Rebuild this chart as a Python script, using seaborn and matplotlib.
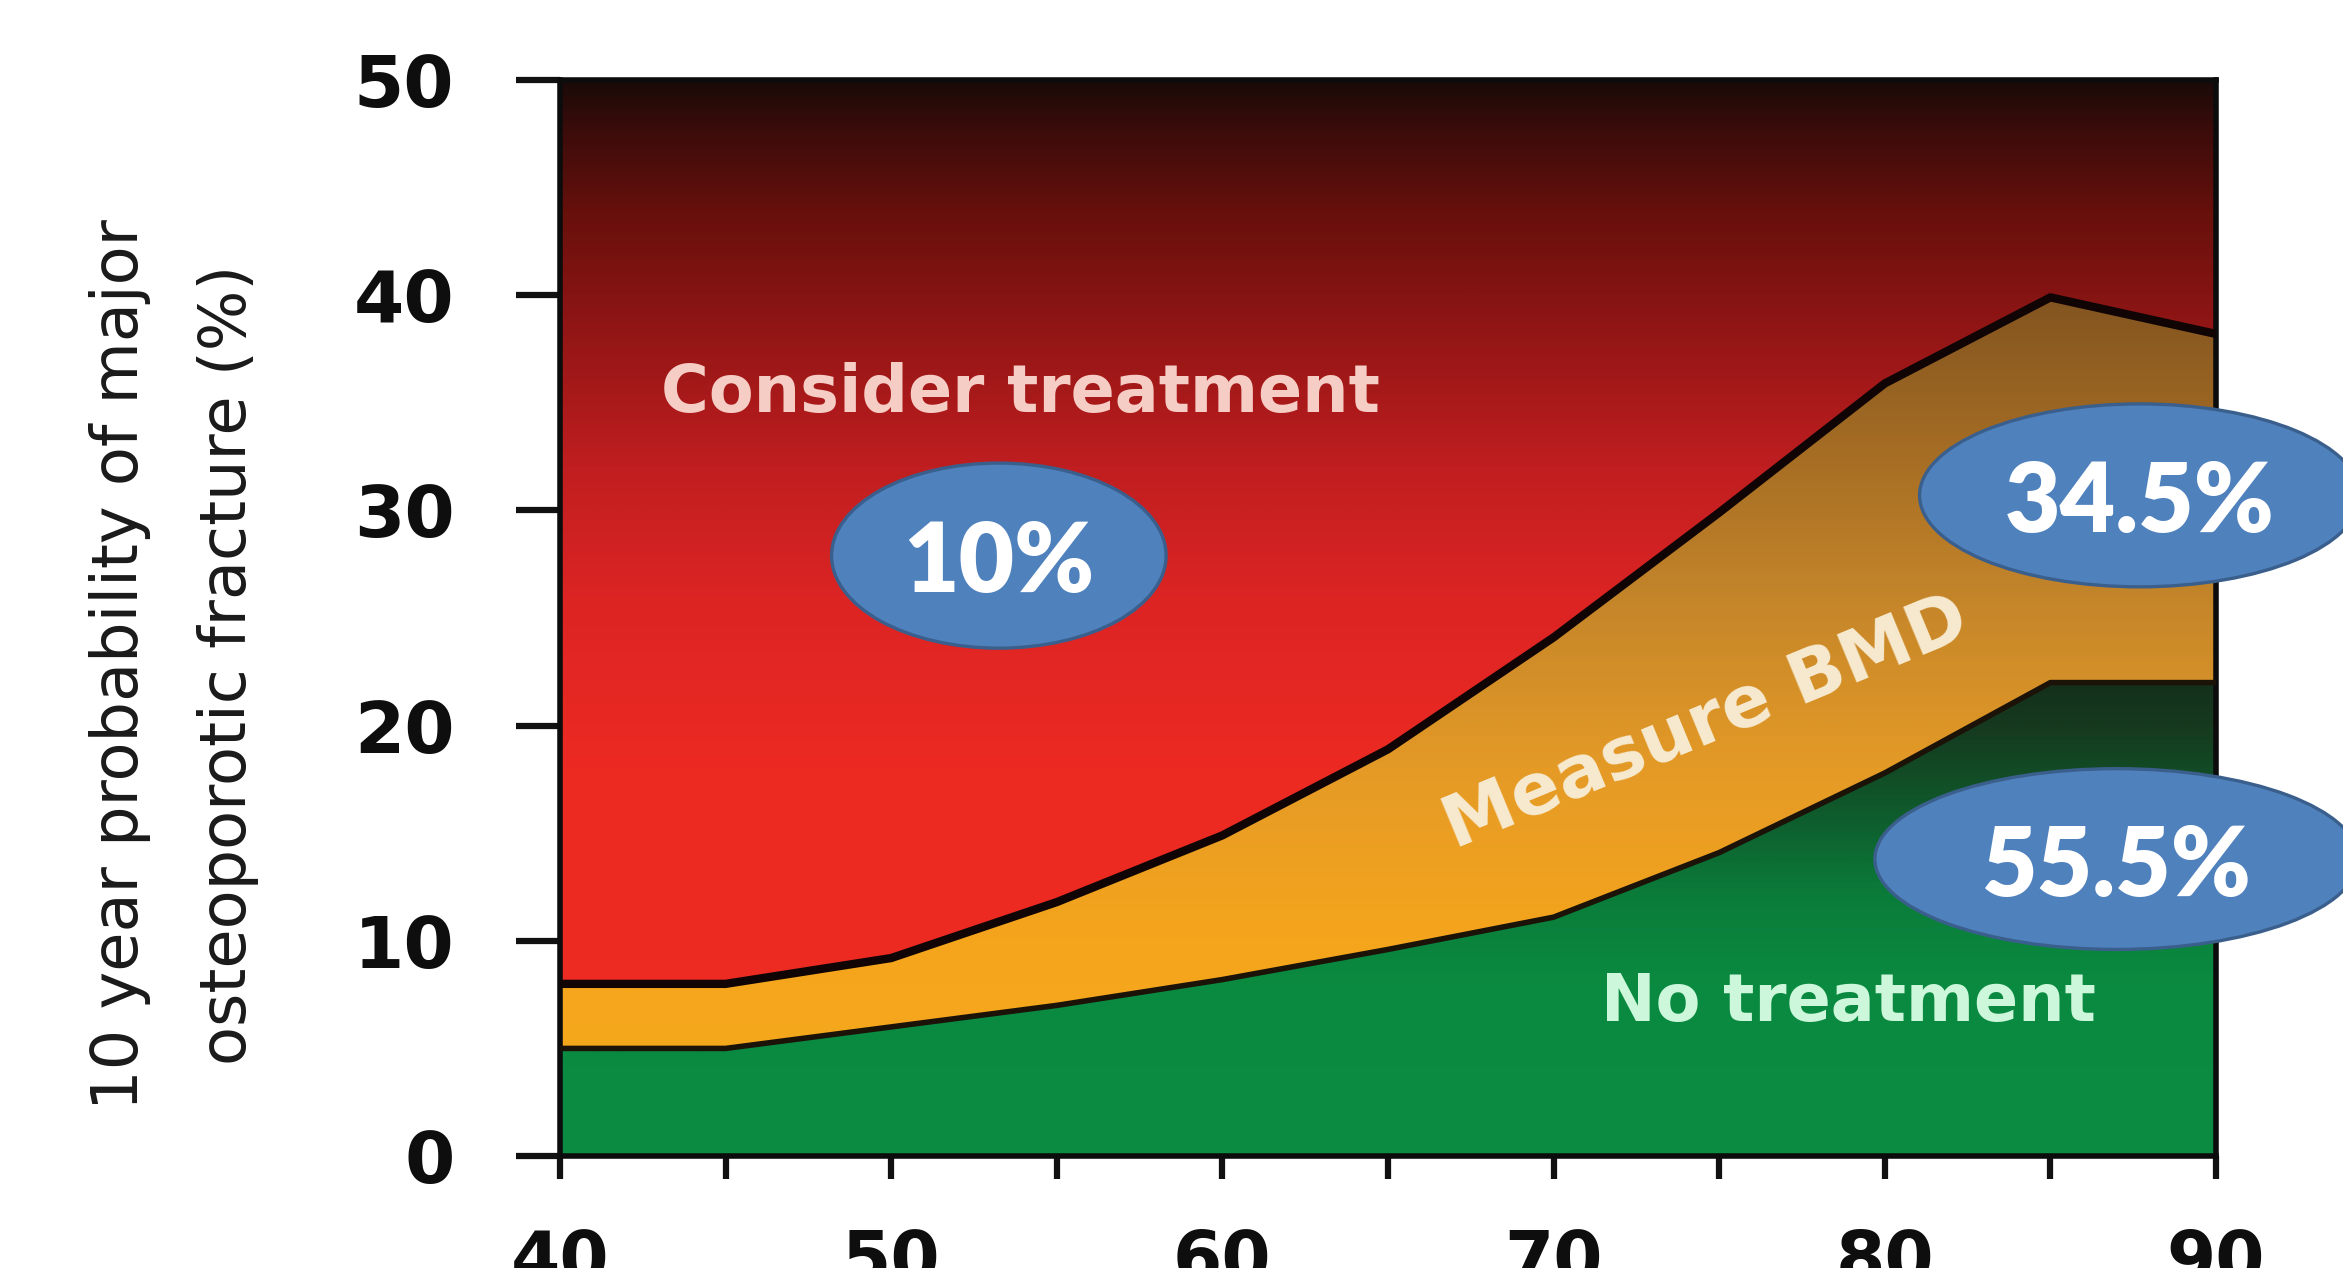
import numpy as np
import matplotlib
matplotlib.use("Agg")
import matplotlib.pyplot as plt
import seaborn as sns
from matplotlib.colors import LinearSegmentedColormap
from matplotlib.patches import Ellipse

# Age (years) and the two intervention thresholds (10-year probability, %)
age = [40, 45, 50, 55, 60, 65, 70, 75, 80, 85, 90]
lower_threshold = [5.0, 5.0, 6.0, 7.0, 8.2, 9.6, 11.1, 14.1, 17.8, 22.0, 22.0]
upper_threshold = [8.0, 8.0, 9.2, 11.8, 14.9, 18.9, 24.1, 29.9, 35.9, 39.9, 38.2]
y_top = 50

x_major = [40, 50, 60, 70, 80, 90]
x_minor = [45, 55, 65, 75, 85]
y_ticks = [0, 10, 20, 30, 40, 50]

zone_labels = ["Consider treatment", "Measure BMD", "No treatment"]
share_labels = ["10%", "34.5%", "55.5%"]

sns.set_theme(style="ticks")
plt.rcParams["font.family"] = ["DejaVu Sans"]

fig = plt.figure(figsize=(23.43, 12.68), dpi=100)
ax = fig.add_axes([0.2390, 0.0883, 0.7068, 0.8486])


def ramp(name, stops):
    return LinearSegmentedColormap.from_list(name, [(v / y_top, c) for v, c in stops])


red_map = ramp("red_zone", [(0, "#ee2c22"), (18, "#ec2a22"), (26, "#dc2424"),
                            (32, "#c01e20"), (38, "#951616"), (44, "#66100c"),
                            (48, "#380c0a"), (50, "#1a0a08")])
orange_map = ramp("orange_zone", [(0, "#f7aa1c"), (10, "#f5a51c"), (18, "#e49a26"),
                                  (26, "#c4852a"), (33, "#a46c24"), (40, "#825420"),
                                  (50, "#6a4418")])
green_map = ramp("green_zone", [(0, "#0a8c42"), (8, "#0a8a40"), (12, "#0b7c3a"),
                                (16, "#0f5a2c"), (20, "#16391e"), (22, "#142f1c"),
                                (50, "#102818")])

gradient = np.linspace(0, y_top, 600).reshape(-1, 1)
zones = [
    (np.zeros(len(age)), lower_threshold, green_map),
    (lower_threshold, upper_threshold, orange_map),
    (upper_threshold, np.full(len(age), y_top), red_map),
]
for lo, hi, cmap in zones:
    poly = ax.fill_between(age, lo, hi, color=cmap(0.2), linewidth=0, zorder=1)
    img = ax.imshow(gradient, extent=(40, 90, 0, y_top), origin="lower",
                    aspect="auto", cmap=cmap, vmin=0, vmax=y_top,
                    interpolation="bilinear", zorder=2)
    img.set_clip_path(poly.get_paths()[0], transform=ax.transData)

# Threshold boundaries
sns.lineplot(x=age, y=lower_threshold, color="#1b1308", linewidth=4.0, ax=ax, zorder=3)
sns.lineplot(x=age, y=upper_threshold, color="#100404", linewidth=6.0, ax=ax, zorder=3)

ax.set_xlim(40, 90)
ax.set_ylim(0, y_top)
ax.set_xticks(x_major)
ax.set_xticks(x_minor, minor=True)
ax.set_yticks(y_ticks)
ax.tick_params(axis="x", which="both", direction="out", length=16.5, width=4.5,
               pad=35, labelsize=51, color="#111111")
ax.tick_params(axis="y", direction="out", length=32, width=4.5, pad=44,
               labelsize=52, color="#111111")
for lbl in ax.get_xticklabels() + ax.get_yticklabels():
    lbl.set_fontweight("bold")
    lbl.set_color("#0e0e0e")
for side in ["left", "bottom", "right", "top"]:
    ax.spines[side].set_linewidth(4)
    ax.spines[side].set_color("#0c0c0c")

ax.set_ylabel("10 year probability of major\nosteoporotic fracture (%)",
              fontsize=46, color="#1a1a1a", linespacing=1.95)
ax.yaxis.label.set_va("center")
ax.yaxis.set_label_coords(-0.2330, 0.4563)

# Zone names
ax.text(53.9, 35.4, zone_labels[0], color="#f6cdc4", fontsize=47, fontweight="bold",
        ha="center", va="center", zorder=4)
ax.text(74.6, 20.1, zone_labels[1], color="#f7ead0", fontsize=52, fontweight="bold",
        rotation=22.5, rotation_mode="anchor", ha="center", va="center", zorder=4)
ax.text(78.9, 7.1, zone_labels[2], color="#cdf7da", fontsize=47, fontweight="bold",
        ha="center", va="center", zorder=4)

# Share call-outs
bubbles = [(53.25, 27.9, 10.1, 8.6), (87.7, 30.7, 13.3, 8.5), (87.0, 13.8, 14.6, 8.4)]
for (cx, cy, w, h), label in zip(bubbles, share_labels):
    ax.add_patch(Ellipse((cx, cy), w, h, facecolor="#4f81bd", edgecolor="#3a5f8c",
                         linewidth=2.4, clip_on=False, zorder=5))
    ax.text(cx, cy, label, color="white", fontsize=69, fontweight="heavy",
            family=["Lato", "DejaVu Sans"], ha="center", va="center_baseline",
            clip_on=False, zorder=6)

fig.savefig("out.png", dpi=100)
